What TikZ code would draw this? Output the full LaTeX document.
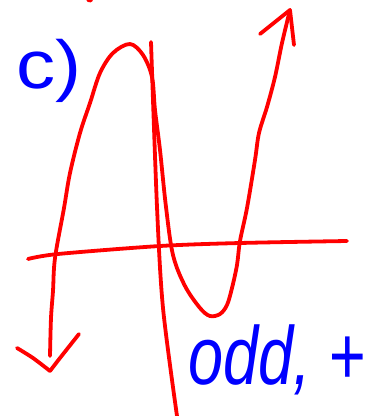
\documentclass[tikz,border=0pt]{standalone}
\usepackage{fontspec}
\newfontfamily\handfont{Liberation Sans}
\usepackage{tikz}
\tikzset{
  axisline/.style={
    draw=red,
    line width=3.8pt,
    line cap=round,
    line join=round
  },
  curveline/.style={
    draw=red,
    line width=3.8pt,
    line cap=round,
    line join=round
  },
  handtext/.style={
    text=blue,
    inner sep=0pt,
    font=\handfont
  }
}

\begin{document}
\begin{tikzpicture}[x=1pt,y=-1pt]
  \useasboundingbox (0,0) rectangle (374,416);

  % Axes
  \draw[axisline] plot[smooth] coordinates {(28,259) (58,254) (160,246) (240,243) (347,241)};
  \draw[axisline] plot[smooth] coordinates {(151,42) (157,207) (163,308) (177,416)};

  % Cubic-like curve, falling to the left and rising to the right
  \draw[curveline] plot[smooth, tension=0.55] coordinates {
    (50,356) (51,318) (53,291) (55,258) (64,208) (70,173) (80,133) (90,103)
    (100,73) (113,53) (130,44) (143,55) (152,77) (155,110) (160,150)
    (166,207) (173,255) (185,286) (200,308) (210,316) (220,314)
    (227,305) (232,288) (237,265) (240,241) (247,208) (255,160)
    (259,133) (267,107) (275,77) (282,43) (290,10)};

  % Hand-drawn arrow heads
  \draw[curveline] (260,34) -- (290,10) -- (294,45);
  \draw[curveline] plot[smooth] coordinates {(17,348) (33,358) (50,371)};
  \draw[curveline] plot[smooth] coordinates {(50,371) (60,358) (79,334)};

  % Stray mark at the top edge
  \draw[curveline] (88,0) -- (91,0.5);

  % Labels
  \node[handtext, anchor=base west, xscale=1.15, font=\handfont\fontsize{68}{70}\selectfont] (label) at (16,88) {c)};
  \node[handtext, anchor=base west, xscale=0.84, yscale=1.1, font=\handfont\itshape\fontsize{75}{78}\selectfont] (note) at (188,384) {odd, +};
\end{tikzpicture}
\end{document}
